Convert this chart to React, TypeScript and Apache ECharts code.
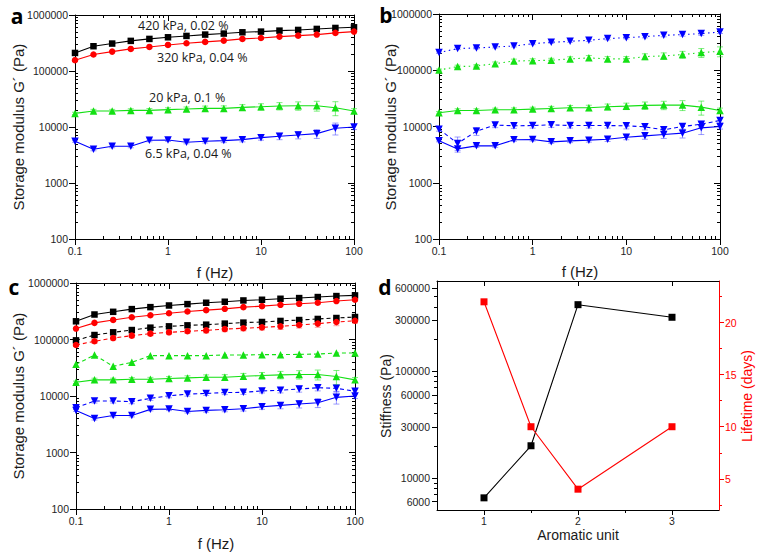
import React, { useEffect, useRef } from 'react';
import * as echarts from 'echarts';

// ---------- data ----------
const freq = [0.1, 0.158, 0.251, 0.398, 0.631, 1, 1.58, 2.51, 3.98, 6.31, 10, 15.8, 25.1, 39.8, 63.1, 100];

// solid curves (420 kPa, 320 kPa, 20 kPa, 6.5 kPa) – shown in a, b, c
const blackSolid = [210000, 277000, 309000, 345000, 374000, 400000, 423000, 447000, 466000, 491000, 505000, 526000, 541000, 564000, 587000, 603000];
const redSolid = [156000, 197000, 222000, 248000, 269000, 292000, 313000, 331000, 349000, 374000, 389000, 411000, 428000, 447000, 479000, 505000];
const greenSolid = [17500, 19300, 19300, 19800, 19800, 20400, 20900, 21500, 21500, 22400, 23000, 23700, 24000, 24000, 22100, 19300];
const blueSolid = [5560, 4000, 4530, 4530, 5800, 5870, 5330, 5560, 5720, 5950, 6460, 6820, 7210, 7610, 9470, 10000];
const greenSolidErr = [0.05, 0.07, 0.07, 0.07, 0.08, 0.08, 0.09, 0.1, 0.11, 0.12, 0.13, 0.15, 0.17, 0.2, 0.28, 0.1];
const blueSolidErr = [0.04, 0.06, 0.06, 0.06, 0.06, 0.06, 0.06, 0.07, 0.08, 0.09, 0.1, 0.13, 0.15, 0.18, 0.24, 0.1];

// panel b
const bBlueDotted = [206000, 243000, 249000, 259000, 270000, 297000, 314000, 327000, 341000, 365000, 380000, 396000, 418000, 430000, 448000, 479000];
const bGreenDotted = [101000, 116000, 119000, 131000, 146000, 148000, 151000, 159000, 166000, 159000, 159000, 175000, 180000, 190000, 206000, 217000];
const bBlueDashed = [8970, 5000, 8270, 10600, 10300, 10400, 10700, 10400, 10400, 10400, 10300, 9860, 8730, 10000, 11000, 12800];
const bBlueDottedErr = [0.03, 0.04, 0.04, 0.04, 0.04, 0.04, 0.04, 0.04, 0.05, 0.05, 0.05, 0.05, 0.06, 0.06, 0.07, 0.06];
const bGreenDottedErr = [0.04, 0.06, 0.06, 0.07, 0.08, 0.08, 0.08, 0.09, 0.1, 0.1, 0.1, 0.12, 0.13, 0.14, 0.18, 0.2];
const bBlueDashedErr = [0.08, 0.3, 0.16, 0.1, 0.1, 0.1, 0.1, 0.1, 0.1, 0.1, 0.12, 0.12, 0.12, 0.12, 0.12, 0.1];

// panel c (dashed)
const cBlackDashed = [96600, 120000, 134000, 147000, 162000, 171000, 178000, 183000, 191000, 199000, 204000, 213000, 221000, 231000, 240000, 250000];
const cRedDashed = [80000, 92900, 106000, 117000, 127000, 134000, 140000, 145000, 153000, 158000, 164000, 171000, 181000, 191000, 204000, 215000];
const cGreenDashed = [36300, 53200, 33500, 39400, 51800, 51800, 51800, 51800, 53200, 53200, 53900, 53900, 54600, 55300, 57700, 57700];
const cBlueDashed = [6220, 8160, 8160, 7940, 9090, 10100, 10800, 11100, 11500, 11600, 12300, 12600, 13300, 14000, 13700, 12100];
const cRedDashedErr = [0.05, 0.08, 0.08, 0.08, 0.08, 0.08, 0.08, 0.1, 0.1, 0.1, 0.1, 0.12, 0.12, 0.14, 0.14, 0.1];
const cBlueDashedErr = [0.05, 0.08, 0.08, 0.08, 0.08, 0.08, 0.08, 0.08, 0.08, 0.08, 0.08, 0.1, 0.12, 0.12, 0.12, 0.1];

// panel d
const aromaticUnit = [1, 1.5, 2, 3];
const stiffness = [6500, 20000, 420000, 320000];
const lifetime = [22, 10, 4, 10];

// ticks
const freqTicks = [0.1, 1, 10, 100];
const modulusTicks = [100, 1000, 10000, 100000, 1000000];
const stiffnessTicks = [6000, 10000, 30000, 60000, 100000, 300000, 600000];
const stiffnessMinor = [7000, 8000, 9000, 20000, 40000, 50000, 70000, 80000, 90000, 200000, 400000, 500000];
const lifetimeTicks = [5, 10, 15, 20];
const lifetimeMinor = [2.5, 7.5, 12.5, 17.5, 22.5];
const aromaticTicks = [1, 2, 3];
const aromaticMinor = [1.5, 2.5];

// ---------- helpers ----------
const lg = (v: number) => Math.log10(v);
const BLACK = '#000000';
const RED = '#ff0000';
const GREEN = '#14e014';
const BLUE = '#0000ff';
const FONT = 'Liberation Sans, Arial, sans-serif';
const labelStyle = { fontFamily: FONT, fontSize: 10.5, color: '#1e1e1e' };

const logMinor = (lo: number, hi: number) => {
  const out: number[] = [];
  for (let e = lo; e < hi; e++) for (let m = 2; m <= 9; m++) out.push(e + Math.log10(m));
  return out;
};
const fmtFrom = (ticks: number[]) => (v: number) => {
  const t = ticks.find((t) => Math.abs(lg(t) - v) < 1e-6);
  return t === undefined ? '' : String(t);
};

function buildOption() {
  const xAxes: any[] = [];
  const yAxes: any[] = [];
  const series: any[] = [];
  const grids = [
    { left: 75, top: 15, width: 279, height: 224 },
    { left: 439, top: 14, width: 281, height: 225 },
    { left: 76, top: 283, width: 279, height: 226 },
    { left: 437, top: 281, width: 282, height: 229 },
  ];

  const mkAxis = (gi: number, min: number, max: number, position: string, opts: any) => ({
    type: 'value', gridIndex: gi, min, max, position,
    splitLine: { show: false },
    axisLine: { show: opts.line !== false, onZero: false, lineStyle: { color: opts.color || BLACK, width: 1 } },
    axisTick: { show: true, customValues: opts.ticks, inside: !!opts.inside, length: opts.len || 6, lineStyle: { color: opts.color || BLACK, width: 1 } },
    axisLabel: opts.labels
      ? { show: true, customValues: opts.ticks, formatter: opts.formatter, margin: opts.margin || 6, ...labelStyle, color: opts.labelColor || labelStyle.color }
      : { show: false },
  });

  const addLogPanel = (gi: number) => {
    const xt = freqTicks.map(lg);
    const yt = modulusTicks.map(lg);
    const xm = logMinor(-1, 2);
    const ym = logMinor(2, 6);
    const xi = xAxes.length;
    xAxes.push(mkAxis(gi, -1, 2, 'bottom', { ticks: xt, labels: true, formatter: fmtFrom(freqTicks), margin: 6 }));
    xAxes.push(mkAxis(gi, -1, 2, 'bottom', { ticks: xm, line: false, len: 3, inside: true }));
    xAxes.push(mkAxis(gi, -1, 2, 'top', { ticks: xt, inside: true }));
    xAxes.push(mkAxis(gi, -1, 2, 'top', { ticks: xm, line: false, len: 3, inside: true }));
    const yi = yAxes.length;
    yAxes.push(mkAxis(gi, 2, 6, 'left', { ticks: yt, labels: true, formatter: fmtFrom(modulusTicks), margin: 7 }));
    yAxes.push(mkAxis(gi, 2, 6, 'left', { ticks: ym, line: false, len: 3, inside: true }));
    yAxes.push(mkAxis(gi, 2, 6, 'right', { ticks: yt, inside: true }));
    yAxes.push(mkAxis(gi, 2, 6, 'right', { ticks: ym, line: false, len: 3, inside: true }));
    return { xi, yi };
  };

  const addLine = (ax: any, ys: number[], color: string, symbol: string, dash: any, down = false) => {
    series.push({
      type: 'line', xAxisIndex: ax.xi, yAxisIndex: ax.yi, z: 3,
      data: freq.map((f, i) => [lg(f), lg(ys[i])]),
      symbol, symbolSize: symbol === 'triangle' ? 7.5 : 6.5, symbolRotate: down ? 180 : 0,
      showSymbol: true, lineStyle: { color, width: 1.1, type: dash }, itemStyle: { color },
    });
  };
  const addErr = (ax: any, ys: number[], err: number[], color: string) => {
    series.push({
      type: 'custom', xAxisIndex: ax.xi, yAxisIndex: ax.yi, z: 2, silent: true,
      data: freq.map((f, i) => [lg(f), lg(ys[i] * (1 - err[i])), lg(ys[i] * (1 + err[i]))]),
      encode: { x: 0, y: [1, 2] },
      renderItem: (_p: any, api: any) => {
        const x = api.value(0);
        const a = api.coord([x, api.value(1)]);
        const b = api.coord([x, api.value(2)]);
        const w = 3;
        const st = { stroke: color, lineWidth: 1 };
        return {
          type: 'group',
          children: [
            { type: 'line', shape: { x1: a[0], y1: a[1], x2: b[0], y2: b[1] }, style: st },
            { type: 'line', shape: { x1: a[0] - w, y1: a[1], x2: a[0] + w, y2: a[1] }, style: st },
            { type: 'line', shape: { x1: b[0] - w, y1: b[1], x2: b[0] + w, y2: b[1] }, style: st },
          ],
        };
      },
    });
  };

  const DASH = [4, 3];
  const DOT = [1.5, 3.5];
  const eGreen = 'rgba(20,224,20,0.55)';
  const eBlue = 'rgba(60,60,255,0.5)';
  const eRed = 'rgba(255,60,60,0.5)';

  // panel a
  const A = addLogPanel(0);
  addErr(A, greenSolid, greenSolidErr, eGreen);
  addErr(A, blueSolid, blueSolidErr, eBlue);
  addLine(A, blackSolid, BLACK, 'rect', 'solid');
  addLine(A, redSolid, RED, 'circle', 'solid');
  addLine(A, greenSolid, GREEN, 'triangle', 'solid');
  addLine(A, blueSolid, BLUE, 'triangle', 'solid', true);

  // panel b
  const B = addLogPanel(1);
  addErr(B, bBlueDotted, bBlueDottedErr, eBlue);
  addErr(B, bGreenDotted, bGreenDottedErr, eGreen);
  addErr(B, greenSolid, greenSolidErr, eGreen);
  addErr(B, bBlueDashed, bBlueDashedErr, eBlue);
  addErr(B, blueSolid, blueSolidErr, eBlue);
  addLine(B, bBlueDotted, BLUE, 'triangle', DOT, true);
  addLine(B, bGreenDotted, GREEN, 'triangle', DOT);
  addLine(B, greenSolid, GREEN, 'triangle', 'solid');
  addLine(B, bBlueDashed, BLUE, 'triangle', DASH, true);
  addLine(B, blueSolid, BLUE, 'triangle', 'solid', true);

  // panel c
  const C = addLogPanel(2);
  addErr(C, cRedDashed, cRedDashedErr, eRed);
  addErr(C, greenSolid, greenSolidErr, eGreen);
  addErr(C, cBlueDashed, cBlueDashedErr, eBlue);
  addErr(C, blueSolid, blueSolidErr, eBlue);
  addLine(C, blackSolid, BLACK, 'rect', 'solid');
  addLine(C, redSolid, RED, 'circle', 'solid');
  addLine(C, cBlackDashed, BLACK, 'rect', DASH);
  addLine(C, cRedDashed, RED, 'circle', DASH);
  addLine(C, cGreenDashed, GREEN, 'triangle', DASH);
  addLine(C, greenSolid, GREEN, 'triangle', 'solid');
  addLine(C, cBlueDashed, BLUE, 'triangle', DASH, true);
  addLine(C, blueSolid, BLUE, 'triangle', 'solid', true);

  // panel d
  const dxi = xAxes.length;
  xAxes.push(mkAxis(3, 0.5, 3.5, 'bottom', { ticks: aromaticTicks, labels: true, formatter: (v: number) => String(v), margin: 5, len: 5 }));
  xAxes.push(mkAxis(3, 0.5, 3.5, 'bottom', { ticks: aromaticMinor, line: false, len: 3 }));
  xAxes.push(mkAxis(3, 0.5, 3.5, 'top', { ticks: aromaticTicks, inside: true, len: 5 }));
  const dyl = yAxes.length;
  const sMin = lg(5000), sMax = lg(700000);
  yAxes.push(mkAxis(3, sMin, sMax, 'left', { ticks: stiffnessTicks.map(lg), labels: true, formatter: fmtFrom(stiffnessTicks), margin: 7, len: 5 }));
  yAxes.push(mkAxis(3, sMin, sMax, 'left', { ticks: stiffnessMinor.map(lg), line: false, len: 3 }));
  const dyr = yAxes.length;
  yAxes.push(mkAxis(3, 2, 24, 'right', { ticks: lifetimeTicks, labels: true, formatter: (v: number) => String(v), margin: 6, len: 5, color: RED, labelColor: RED }));
  yAxes.push(mkAxis(3, 2, 24, 'right', { ticks: lifetimeMinor, line: false, len: 3, color: RED }));

  series.push({
    type: 'line', xAxisIndex: dxi, yAxisIndex: dyl, z: 3,
    data: aromaticUnit.map((u, i) => [u, lg(stiffness[i])]),
    symbol: 'rect', symbolSize: 7, lineStyle: { color: BLACK, width: 1.1 }, itemStyle: { color: BLACK },
  });
  series.push({
    type: 'line', xAxisIndex: dxi, yAxisIndex: dyr, z: 3,
    data: aromaticUnit.map((u, i) => [u, lifetime[i]]),
    symbol: 'rect', symbolSize: 7, lineStyle: { color: RED, width: 1.1 }, itemStyle: { color: RED },
  });

  const txt = (text: string, x: number, y: number, o: any = {}) => ({
    type: 'text', x, y, rotation: o.rot || 0, z: 10,
    style: {
      text, fill: o.fill || '#1a1a1a', fontFamily: o.family || FONT, fontSize: o.size || 15,
      fontWeight: o.weight || 'normal', align: o.align || 'center', verticalAlign: 'middle',
    },
  });
  const R = Math.PI / 2;
  const graphic = [
    txt('a', 17, 16, { size: 21, weight: 'bold', family: 'Open Sans', fill: '#000' }),
    txt('b', 386, 15, { size: 21, weight: 'bold', family: 'Open Sans', fill: '#000' }),
    txt('c', 14, 287, { size: 21, weight: 'bold', family: 'Open Sans', fill: '#000' }),
    txt('d', 385, 287, { size: 21, weight: 'bold', family: 'Open Sans', fill: '#000' }),
    txt('Storage modulus G´ (Pa)', 18, 127, { rot: R }),
    txt('Storage modulus G´ (Pa)', 390, 127, { rot: R }),
    txt('Storage modulus G´ (Pa)', 18, 396, { rot: R }),
    txt('Stiffness (Pa)', 386, 396, { rot: R, size: 14 }),
    txt('Lifetime (days)', 747, 396, { rot: R, fill: RED, size: 14 }),
    txt('f (Hz)', 215, 272),
    txt('f (Hz)', 580, 271),
    txt('f (Hz)', 216, 543),
    txt('Aromatic unit', 578, 535, { size: 14 }),
    txt('420 kPa, 0.02 %', 138, 25, { align: 'left', family: 'Open Sans', size: 12.5 }),
    txt('320 kPa, 0.04 %', 157, 57, { align: 'left', family: 'Open Sans', size: 12.5 }),
    txt('20 kPa, 0.1 %', 149, 97, { align: 'left', family: 'Open Sans', size: 12.5 }),
    txt('6.5 kPa, 0.04 %', 145, 153, { align: 'left', family: 'Open Sans', size: 12.5 }),
  ];

  return {
    animation: false,
    backgroundColor: '#ffffff',
    grid: grids,
    xAxis: xAxes,
    yAxis: yAxes,
    series,
    graphic,
  };
}

export default function App() {
  const ref = useRef<HTMLDivElement>(null);
  useEffect(() => {
    if (!ref.current) return;
    const chart = echarts.init(ref.current, undefined, { renderer: 'svg' });
    chart.setOption(buildOption() as any);
    return () => chart.dispose();
  }, []);
  return <div ref={ref} style={{ position: 'absolute', left: 0, top: 0, width: 762, height: 557 }} />;
}
